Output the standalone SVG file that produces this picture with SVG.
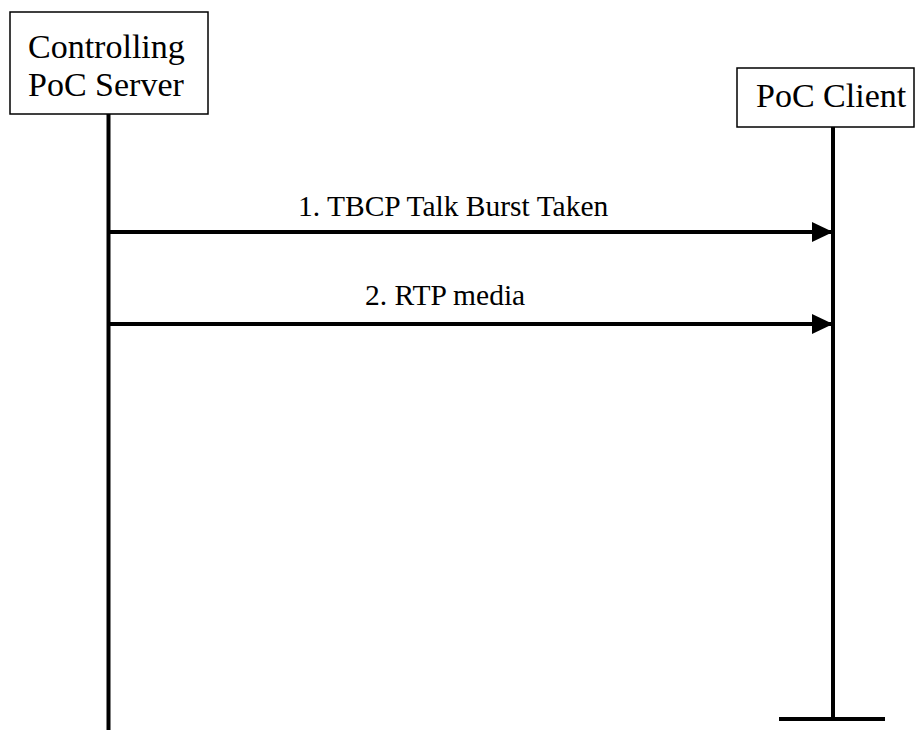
<svg xmlns="http://www.w3.org/2000/svg" width="917" height="730" viewBox="0 0 917 730">
<style>
.box{fill:#fff;stroke:#000;stroke-width:1.5}
text{font-family:'Liberation Serif',serif;fill:#000}
.big{font-size:34px}
.lbl{font-size:29.5px}
.life{stroke:#000;stroke-width:4;fill:none}
.msg{stroke:#000;stroke-width:4;fill:none}
</style>
<defs>
<marker id="ah" markerUnits="userSpaceOnUse" markerWidth="22" markerHeight="22" refX="21" refY="10" orient="auto">
<path d="M0,0 L21,10 L0,20 Z" fill="#000"/>
</marker>
</defs>
<g id="server">
<rect class="box" x="10" y="12" width="198" height="102"/>
<text class="big" font-family="Liberation Serif, serif" x="28" y="58">Controlling</text>
<text class="big" font-family="Liberation Serif, serif" x="28" y="96">PoC Server</text>
<line class="life" x1="108.5" y1="114" x2="108.5" y2="730"/>
</g>
<g id="client">
<rect class="box" x="737" y="68" width="177" height="59"/>
<text class="big" font-family="Liberation Serif, serif" x="756" y="107">PoC Client</text>
<line class="life" x1="833" y1="127" x2="833" y2="719"/>
<line class="life" x1="779" y1="719" x2="885" y2="719"/>
</g>
<g id="connectors">
<line class="msg" x1="110" y1="232" x2="833" y2="232" marker-end="url(#ah)"/>
<text class="lbl" font-family="Liberation Serif, serif" x="298" y="216">1. TBCP Talk Burst Taken</text>
<line class="msg" x1="110" y1="324" x2="833" y2="324" marker-end="url(#ah)"/>
<text class="lbl" font-family="Liberation Serif, serif" x="365" y="305">2. RTP media</text>
</g>
</svg>
